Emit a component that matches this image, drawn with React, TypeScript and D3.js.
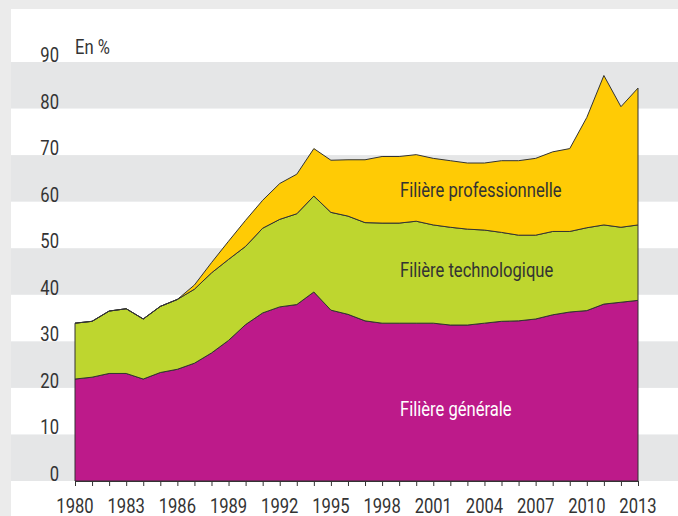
import * as d3 from "d3";
import React, { useEffect, useRef } from "react";

// années (catégories)
const years = [
    1980, 1981, 1982, 1983, 1984, 1985, 1986, 1987, 1988, 1989, 1990, 1991,
    1992, 1993, 1994, 1995, 1996, 1997, 1998, 1999, 2000, 2001, 2002, 2003,
    2004, 2005, 2006, 2007, 2008, 2009, 2010, 2011, 2012, 2013,
];

const generale = [
    21.9, 22.3, 23.1, 23.1, 21.9, 23.3, 24.0, 25.3, 27.5, 30.2, 33.6, 36.1,
    37.4, 37.9, 40.6, 36.7, 35.8, 34.4, 33.9, 33.9, 33.9, 33.9, 33.5, 33.5,
    33.9, 34.3, 34.4, 34.8, 35.7, 36.3, 36.6, 38.0, 38.4, 38.8,
];

const technologique = [
    12.0, 12.0, 13.4, 13.9, 12.9, 14.2, 15.0, 15.9, 17.2, 17.4, 16.8, 18.2,
    18.8, 19.5, 20.6, 21.0, 21.1, 21.1, 21.5, 21.5, 21.9, 21.1, 21.0, 20.6,
    20.0, 19.1, 18.4, 18.0, 17.9, 17.3, 17.8, 17.0, 16.1, 16.2,
];

const professionnelle = [
    0, 0, 0, 0, 0, 0, 0, 0.9, 2.2, 3.9, 5.6, 6.0,
    7.7, 8.5, 10.2, 11.2, 12.1, 13.5, 14.3, 14.3, 14.3, 14.3, 14.3, 14.2,
    14.4, 15.4, 16.0, 16.5, 17.1, 17.8, 23.7, 32.1, 25.9, 29.4,
];

const yTicks = [0, 10, 20, 30, 40, 50, 60, 70, 80, 90];
const xLabelYears = [1980, 1983, 1986, 1989, 1992, 1995, 1998, 2001, 2004, 2007, 2010, 2013];

const seriesKeys = ["generale", "technologique", "professionnelle"];
const seriesColors: any = {
    generale: "#bd1a8a",
    technologique: "#bed62f",
    professionnelle: "#ffcb05",
};

const FONT = "Roboto, 'Liberation Sans', sans-serif";
const SQUEEZE = 0.83; // police étroite simulée

// texte compressé horizontalement
function drawText(container: any, x: number, y: number, value: string, anchor: string, color: string) {
    container.append("text")
        .attr("transform", `translate(${x},${y}) scale(${SQUEEZE},1)`)
        .attr("text-anchor", anchor)
        .style("font-family", FONT)
        .style("font-size", "20px")
        .attr("fill", color)
        .text(value);
}

export default function App() {
    const svgRef = useRef<SVGSVGElement>(null);

    useEffect(() => {
        const width = 678;
        const height = 516;
        const svg = d3.select(svgRef.current);
        svg.selectAll("*").remove();

        // fond gris + panneau blanc
        svg.append("rect").attr("width", width).attr("height", height).attr("fill", "#ebebeb");
        svg.append("rect").attr("x", 11).attr("y", 9).attr("width", width - 11).attr("height", height - 9).attr("fill", "#fff");

        const x = d3.scaleLinear().domain([1980, 2013]).range([75, 638]);
        const y = d3.scaleLinear().domain([0, 90]).range([481, 62]);

        // bandes grises alternées
        const bands = [0, 20, 40, 60, 80];
        svg.append("g").selectAll("rect").data(bands).enter().append("rect")
            .attr("x", 11)
            .attr("width", width - 11)
            .attr("y", (d: number) => y(d + 10))
            .attr("height", (d: number) => y(d) - y(d + 10))
            .attr("fill", "#e5e6e7");

        const table = years.map((yr, i) => ({
            year: yr,
            generale: generale[i],
            technologique: technologique[i],
            professionnelle: professionnelle[i],
        }));
        const stacked = d3.stack<any>().keys(seriesKeys)(table);

        const area = d3.area<any>()
            .x((d: any) => x(d.data.year))
            .y0((d: any) => y(d[0]))
            .y1((d: any) => y(d[1]));

        svg.append("g").selectAll("path").data(stacked).enter().append("path")
            .attr("d", (s: any) => area(s))
            .attr("fill", (s: any) => seriesColors[s.key])
            .attr("stroke", "#333")
            .attr("stroke-width", 1)
            .attr("stroke-linejoin", "round");

        // axe des x
        const xAxis = d3.axisBottom(x)
            .tickValues(years)
            .tickSize(5)
            .tickFormat(() => "");
        const gx = svg.append("g").attr("transform", "translate(0,481)").call(xAxis as any);
        gx.select(".domain").attr("stroke", "#333").attr("d", `M${x(1980)},0.5H${x(2013)}`);
        gx.selectAll(".tick line").attr("stroke", "#333");
        const gxl = svg.append("g");
        xLabelYears.forEach((yr) => drawText(gxl, x(yr), 513, String(yr), "middle", "#333"));

        // étiquettes y
        const gy = svg.append("g");
        yTicks.forEach((t) => drawText(gy, 59, y(t), String(t), "end", "#333"));

        drawText(svg, 75, 54, "En %", "start", "#333");

        // libellés des séries
        drawText(svg, 400, 197, "Filière professionnelle", "start", "#333");
        drawText(svg, 400, 277, "Filière technologique", "start", "#333");
        drawText(svg, 400, 416, "Filière générale", "start", "#fff");
    }, []);

    return (
        <svg ref={svgRef} width={678} height={516}
             style={{ position: "absolute", left: 0, top: 0, display: "block" }} />
    );
}
